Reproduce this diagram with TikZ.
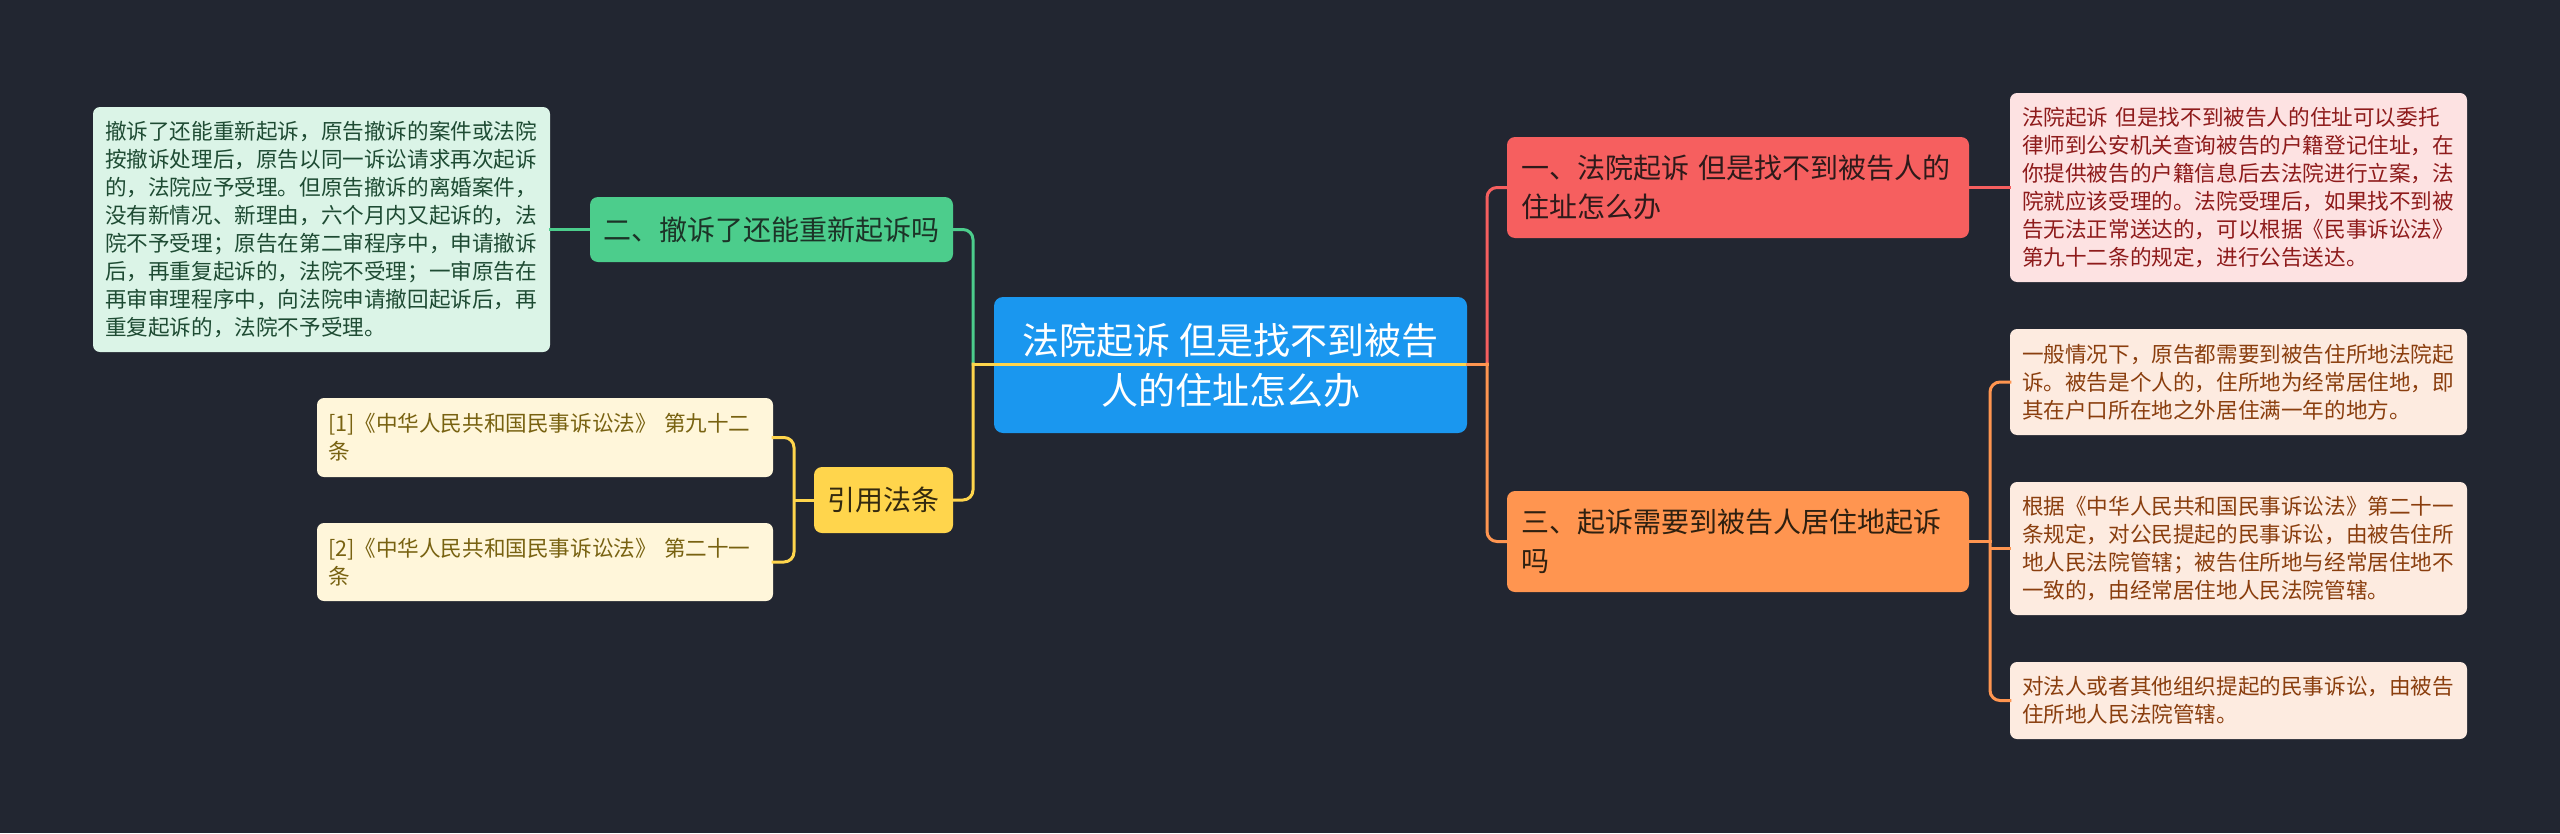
\documentclass[tikz,border=0pt]{standalone}
\usepackage{fontspec}
\setmainfont{Noto Sans CJK SC}
\definecolor{bg}{HTML}{222631}
\definecolor{rootc}{HTML}{1A97EF}
\definecolor{redc}{HTML}{F65F5F}
\definecolor{orc}{HTML}{FF9550}
\definecolor{grc}{HTML}{4CCD8C}
\definecolor{yec}{HTML}{FFD54C}
\definecolor{pinkf}{HTML}{FDE2E2}
\definecolor{pinkt}{HTML}{8E1B1B}
\definecolor{peachf}{HTML}{FDEBE0}
\definecolor{peacht}{HTML}{8A3E0E}
\definecolor{mintf}{HTML}{DBF4E7}
\definecolor{mintt}{HTML}{1E4B33}
\definecolor{creamf}{HTML}{FFF6DA}
\definecolor{creamt}{HTML}{786211}
\definecolor{redtx}{HTML}{2E1A1A}
\definecolor{ortx}{HTML}{2E2010}
\definecolor{grtx}{HTML}{1C3327}
\definecolor{yetx}{HTML}{33290F}
\tikzset{
  leafbox/.style={rounded corners=7pt, inner ysep=0pt, inner xsep=12pt, text width=433pt,
    align=left, font=\fontsize{21.6pt}{28pt}\selectfont},
  branchbox/.style={rounded corners=8pt, inner ysep=0pt, inner xsep=14pt, text width=434pt,
    align=left, font=\fontsize{28pt}{39pt}\selectfont},
  smallbranch/.style={rounded corners=8pt, inner sep=0pt, align=center,
    font=\fontsize{28pt}{39pt}\selectfont},
  rootbox/.style={rounded corners=9pt, inner sep=0pt, align=center, fill=rootc, text=white,
    minimum width=473pt, minimum height=136pt, font=\fontsize{37pt}{50pt}\selectfont},
  conn/.style={line width=3pt, rounded corners=10pt, line cap=rect},
}
\begin{document}
\begin{tikzpicture}[x=1pt,y=-1pt]
\fill[bg] (0,0) rectangle (2560,833);
\useasboundingbox (0,0) rectangle (2560,833);

% coordinates for trunks
\coordinate (tl) at (973,364);
\coordinate (tr) at (1487,364);
\coordinate (yj) at (794,500);
\coordinate (oj) at (1990,541.5);

% nodes
\node[rootbox] (root) at (1230.5,365) {法院起诉 但是找不到被告\\人的住址怎么办};

\node[branchbox, fill=redc, text=redtx, minimum height=101pt] (r) at (1738,187.5)
  {一、法院起诉~但是找不到被告人的\\住址怎么办};
\node[branchbox, fill=orc, text=ortx, minimum height=101pt] (o) at (1738,541.5)
  {三、起诉需要到被告人居住地起诉\\吗};
\node[smallbranch, fill=grc, text=grtx, minimum width=363pt, minimum height=65pt] (g) at (771.5,229.5)
  {二、撤诉了还能重新起诉吗};
\node[smallbranch, fill=yec, text=yetx, minimum width=139pt, minimum height=66pt] (y) at (883.5,500)
  {引用法条};

\node[leafbox, fill=mintf, text=mintt, minimum height=245pt] (gt) at (321.5,229.5)
  {撤诉了还能重新起诉，原告撤诉的案件或法院\\按撤诉处理后，原告以同一诉讼请求再次起诉\\的，法院应予受理。但原告撤诉的离婚案件，\\没有新情况、新理由，六个月内又起诉的，法\\院不予受理；原告在第二审程序中，申请撤诉\\后，再重复起诉的，法院不受理；一审原告在\\再审审理程序中，向法院申请撤回起诉后，再\\重复起诉的，法院不予受理。};

\node[leafbox, inner xsep=11pt, text width=434pt, fill=creamf, text=creamt, minimum height=79pt] (c1) at (545,437.5)
  {[1]《中华人民共和国民事诉讼法》~第九十二\\条};
\node[leafbox, inner xsep=11pt, text width=434pt, fill=creamf, text=creamt, minimum height=78pt] (c2) at (545,562)
  {[2]《中华人民共和国民事诉讼法》~第二十一\\条};

\node[leafbox, fill=pinkf, text=pinkt, minimum height=189pt] (pk) at (2238.5,187.5)
  {法院起诉~但是找不到被告人的住址可以委托\\律师到公安机关查询被告的户籍登记住址，在\\你提供被告的户籍信息后去法院进行立案，法\\院就应该受理的。法院受理后，如果找不到被\\告无法正常送达的，可以根据《民事诉讼法》\\第九十二条的规定，进行公告送达。};

\node[leafbox, fill=peachf, text=peacht, minimum height=106pt] (p1) at (2238.5,382)
  {一般情况下，原告都需要到被告住所地法院起\\诉。被告是个人的，住所地为经常居住地，即\\其在户口所在地之外居住满一年的地方。};
\node[leafbox, fill=peachf, text=peacht, minimum height=133pt] (p2) at (2238.5,548.5)
  {根据《中华人民共和国民事诉讼法》第二十一\\条规定，对公民提起的民事诉讼，由被告住所\\地人民法院管辖；被告住所地与经常居住地不\\一致的，由经常居住地人民法院管辖。};
\node[leafbox, fill=peachf, text=peacht, minimum height=77pt] (p3) at (2238.5,700.5)
  {对法人或者其他组织提起的民事诉讼，由被告\\住所地人民法院管辖。};

% connectors
\draw[conn, grc] (gt.east) -- (g.west);
\draw[conn, grc] (g.east) -| (tl);
\draw[conn, yec] (y.east) -| (tl);
\draw[conn, yec] (y.west) -- (yj);
\draw[conn, yec] (c1.east) -| (yj) |- (c2.east);
\draw[conn, redc] (tr) |- (r.west);
\draw[conn, orc] (tr) |- (o.west);
\draw[conn, redc] (r.east) -- (pk.west);
\draw[conn, orc] (o.east) -- (oj);
\draw[conn, orc] (p1.west) -| (oj) |- (p3.west);
\draw[conn, orc] (oj |- p2.west) -- (p2.west);
\draw[conn, yec] (tl) -- (root.east |- tl);
\draw[conn, orc] (root.east |- tl) -- (tr);
\end{tikzpicture}
\end{document}
